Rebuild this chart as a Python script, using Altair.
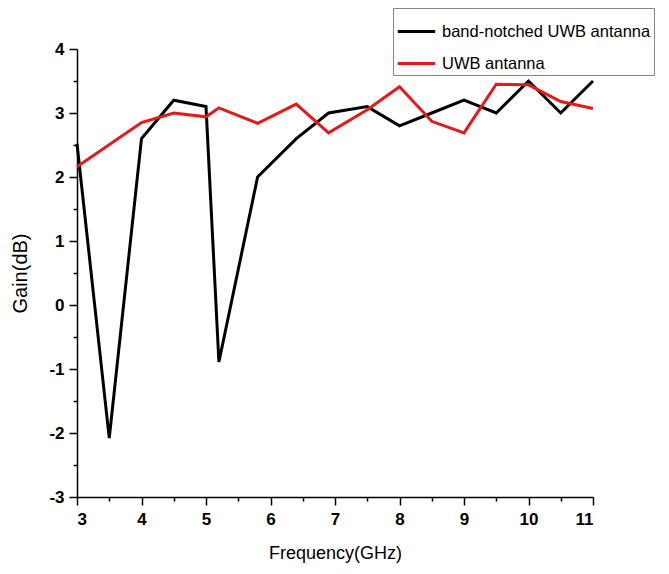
import altair as alt
import pandas as pd

freq_notched = [3.0, 3.5, 4.0, 4.5, 5.0, 5.2, 5.8, 6.4, 6.9, 7.5, 8.0, 8.5, 9.0, 9.5, 10.0, 10.5, 11.0]
gain_notched = [2.52, -2.08, 2.6, 3.2, 3.1, -0.89, 2.0, 2.6, 3.0, 3.1, 2.8, 3.0, 3.2, 3.0, 3.5, 3.0, 3.5]

freq_uwb = [3.0, 4.0, 4.5, 5.0, 5.2, 5.8, 6.4, 6.9, 7.5, 8.0, 8.5, 9.0, 9.5, 10.0, 10.5, 11.0]
gain_uwb = [2.16, 2.85, 3.0, 2.94, 3.08, 2.84, 3.14, 2.69, 3.05, 3.41, 2.87, 2.69, 3.45, 3.44, 3.18, 3.07]

series_names = ["band-notched UWB antanna", "UWB antanna"]
series_colors = ["#000000", "#e41a1a"]

rows = []
for i, (f, g) in enumerate(zip(freq_notched, gain_notched)):
    rows.append({"series": series_names[0], "freq": f, "gain": g, "order": i})
for i, (f, g) in enumerate(zip(freq_uwb, gain_uwb)):
    rows.append({"series": series_names[1], "freq": f, "gain": g, "order": i})
df = pd.DataFrame(rows)

x_vals = [3 + 0.5 * i for i in range(17)]
y_vals = [-3 + 0.5 * i for i in range(15)]

tick_size = {"condition": {"test": "datum.value % 1 !== 0", "value": 4}, "value": 8}
label_expr = "datum.value % 1 === 0 ? '' + datum.value : ''"

chart = alt.Chart(df).mark_line(strokeWidth=3, clip=False).encode(
    x=alt.X("freq:Q",
            scale=alt.Scale(domain=[3, 11], nice=False, zero=False),
            axis=alt.Axis(title="Frequency(GHz)", values=x_vals,
                          labelExpr=label_expr, titleFontSize=18,
                          tickSize=tick_size, labelPadding=6, titlePadding=17,
                          grid=False)),
    y=alt.Y("gain:Q",
            scale=alt.Scale(domain=[-3, 4], nice=False, zero=False),
            axis=alt.Axis(title="Gain(dB)", values=y_vals,
                          labelExpr=label_expr, titleFontSize=20,
                          tickSize=tick_size, labelPadding=5, titlePadding=18,
                          grid=False)),
    color=alt.Color("series:N",
                    scale=alt.Scale(domain=series_names, range=series_colors),
                    legend=alt.Legend(title=None, orient="none", legendX=316, legendY=-41,
                                      symbolType="stroke", symbolSize=1400,
                                      symbolStrokeWidth=3, labelFontSize=16.5,
                                      labelFont="Liberation Sans", labelColor="#000",
                                      labelLimit=400,
                                      strokeColor="#888888", fillColor="white",
                                      padding=3, rowPadding=3, labelOffset=5,
                                      symbolOffset=0)),
    order="order:Q",
    detail="series:N",
).properties(
    width=516, height=448,
    autosize=alt.AutoSizeParams(type="none"),
    padding={"left": 69, "top": 41, "right": 68, "bottom": 69},
).configure_view(
    stroke=None
).configure_axis(
    domainColor="#000", domainWidth=1.5, tickColor="#000", tickWidth=1.5,
    labelFont="Liberation Sans", labelFontWeight="bold", labelFontSize=17,
    labelColor="#000", titleFont="Liberation Sans", titleFontWeight="normal",
    titleColor="#000"
)

chart.save("out.html", embed_options={"renderer": "svg", "actions": False})
